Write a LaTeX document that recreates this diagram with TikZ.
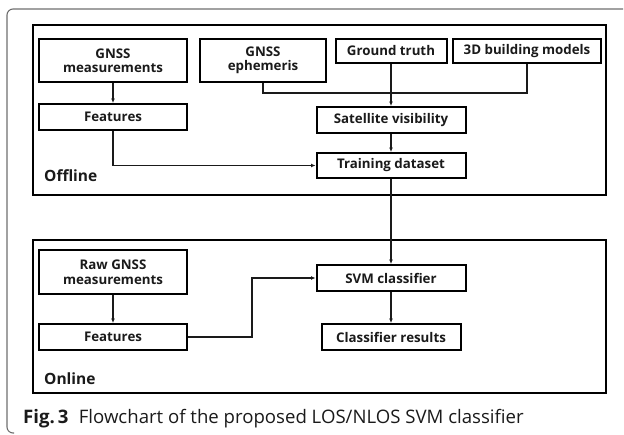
\documentclass[tikz,border=0pt]{standalone}
\usepackage{fontspec}
\setmainfont{Open Sans}
\usetikzlibrary{arrows.meta,calc}
\definecolor{txt}{HTML}{1A1A1A}
\definecolor{framegray}{HTML}{6E6E6E}
\tikzset{
  box/.style={draw=black, line width=2pt, inner sep=0pt, align=center,
    font=\fontsize{13.3}{14.5}\selectfont\bfseries, text=txt},
  panel/.style={draw=black, line width=2.2pt},
  conn/.style={draw=txt, line width=1.1pt},
  arr/.style={conn, -{Latex[length=4.5pt,width=4pt]}},
  lbl/.style={anchor=base west, inner sep=0pt, font=\fontsize{15.5}{18}\selectfont\bfseries, text=txt}
}
\begin{document}
\begin{tikzpicture}[x=1pt,y=-1pt]
\useasboundingbox (0,0) rectangle (624,434);
% outer figure frame
\draw[framegray, line width=1.1pt, rounded corners=6pt] (623,9) -- (7,9) -- (7,433) -- (14,433);
% panels
\draw[panel] (33,25) rectangle (606,195);
\draw[panel] (33,240) rectangle (606,393);
% offline nodes
\node[box, minimum width=148pt, minimum height=43pt] (gm) at (113,60.5) {GNSS\\measurements};
\node[box, minimum width=126pt, minimum height=43pt] (ge) at (263,60.5) {GNSS\\ephemeris};
\node[box, minimum width=111pt, minimum height=24pt] (gt) at (391,51) {Ground truth};
\node[box, minimum width=148pt, minimum height=24pt] (bm) at (527,51) {3D building models};
\node[box, minimum width=148pt, minimum height=26pt] (f1) at (113,117) {Features};
\node[box, minimum width=149pt, minimum height=26pt] (sv) at (391,120) {Satellite visibility};
\node[box, minimum width=149pt, minimum height=25pt] (td) at (391,165.5) {Training dataset};
\node[lbl] (off) at (44,181) {Offline};
% online nodes
\node[box, minimum width=148pt, minimum height=44pt] (raw) at (113,272) {Raw GNSS\\measurements};
\node[box, minimum width=148pt, minimum height=26pt] (f2) at (113,337) {Features};
\node[box, minimum width=149pt, minimum height=26pt] (svm) at (391,278) {SVM classifier};
\node[box, minimum width=139pt, minimum height=26pt] (cr) at (391,337) {Classifier results};
\node[lbl] (on) at (44,384) {Online};
% connectors
\draw[arr] (gm.south) -- (f1.north);
\draw[conn] (ge.south) -- ++(0,10) -| (bm.south);
\draw[arr] (gt.south) -- (sv.north);
\draw[arr] (sv.south) -- (td.north);
\draw[arr] (f1.south) |- (td.west);
\draw[arr] (td.south) -- (svm.north);
\draw[arr] (raw.south) -- (f2.north);
\draw[arr] (f2.east) -- ++(64,0) |- (svm.west);
\draw[arr] (svm.south) -- (cr.north);
% caption
\node[anchor=base west, inner sep=0pt, font=\fontsize{18.6}{21}\selectfont, text=txt] (cap) at (23,423)
  {\textbf{Fig.\,3}\hspace{0.55em}Flowchart of the proposed LOS/NLOS SVM classifier};
\end{tikzpicture}
\end{document}
